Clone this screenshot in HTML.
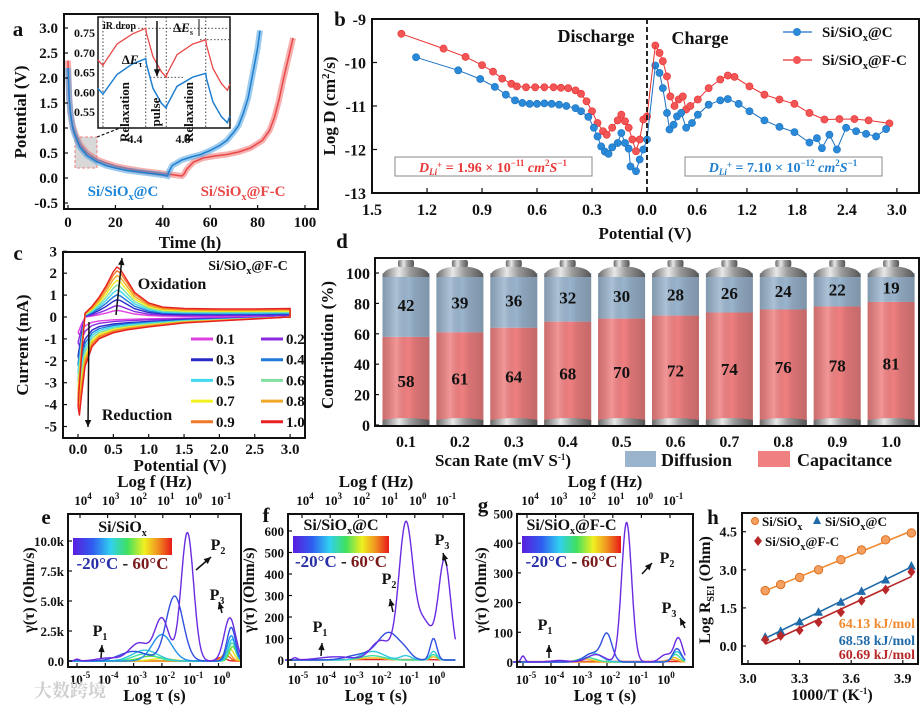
<!DOCTYPE html>
<html><head><meta charset="utf-8">
<style>
html,body{margin:0;padding:0;background:#fff;}
svg text{font-family:"Liberation Serif","Noto Serif CJK SC",serif;font-weight:bold;}
</style></head>
<body>
<svg id="fig" xmlns="http://www.w3.org/2000/svg" width="924" height="707" viewBox="0 0 924 707">
<defs>
<linearGradient id="cbar" x1="0" x2="1" y1="0" y2="0">
<stop offset="0" stop-color="#5a1ee0"/><stop offset="0.2" stop-color="#2f5ef0"/><stop offset="0.38" stop-color="#30d0f0"/><stop offset="0.55" stop-color="#40e060"/><stop offset="0.72" stop-color="#f0f020"/><stop offset="0.86" stop-color="#f09020"/><stop offset="1" stop-color="#e81818"/>
</linearGradient>
<linearGradient id="cap" x1="0" x2="1" y1="0" y2="0">
<stop offset="0" stop-color="#6a6a6a"/><stop offset="0.35" stop-color="#e8e8e8"/><stop offset="0.6" stop-color="#9a9a9a"/><stop offset="1" stop-color="#555"/>
</linearGradient>
<linearGradient id="shade" x1="0" x2="1" y1="0" y2="0">
<stop offset="0" stop-color="#000" stop-opacity="0.15"/><stop offset="0.3" stop-color="#fff" stop-opacity="0.18"/><stop offset="0.55" stop-color="#000" stop-opacity="0.0"/><stop offset="0.7" stop-color="#000" stop-opacity="0.1"/><stop offset="1" stop-color="#000" stop-opacity="0.18"/>
</linearGradient>
</defs>
<rect x="0" y="0" width="924" height="707" fill="#fff"/>
</svg>
<script>
// ---------------- data ----------------
// panel a
const aBlueT=[0,0.5,1,2,3,5,8,12,16,20,25,30,35,40,42,42.5,44,48,52,56,60,64,67,70,72,74,76,78,80,81];
const aBlueV=[2.2,1.6,1.3,1.0,0.85,0.62,0.45,0.33,0.25,0.2,0.15,0.12,0.09,0.06,0.04,0.12,0.25,0.36,0.42,0.47,0.55,0.65,0.75,0.92,1.05,1.3,1.6,2.1,2.6,2.95];
const aRedT=[0,0.5,1,2,3,5,8,12,16,20,25,30,35,40,45,48,49,50,53,57,62,67,72,77,82,85,87,89,91,93,95];
const aRedV=[2.35,1.6,1.3,1.05,0.9,0.68,0.5,0.37,0.3,0.24,0.19,0.15,0.12,0.09,0.06,0.04,0.08,0.17,0.32,0.4,0.44,0.47,0.52,0.6,0.75,0.95,1.2,1.55,2.0,2.4,2.8];
const insT=[4.09,4.133,4.14,4.25,4.38,4.49,4.495,4.55,4.62,4.66,4.665,4.75,4.88,4.99,4.995,5.05,5.12,5.17,5.19];
const insRed=[0.682,0.668,0.672,0.722,0.748,0.762,0.75,0.69,0.652,0.638,0.645,0.695,0.722,0.733,0.72,0.66,0.622,0.605,0.62];
const insBlue=[0.61,0.595,0.598,0.645,0.672,0.685,0.672,0.61,0.572,0.56,0.566,0.615,0.638,0.648,0.635,0.575,0.538,0.523,0.54];
// panel b
const bBlueDisV=[1.26,1.03,0.91,0.83,0.77,0.72,0.68,0.64,0.6,0.56,0.52,0.48,0.44,0.39,0.36,0.32,0.29,0.27,0.25,0.23,0.21,0.19,0.16,0.14,0.12,0.1,0.09,0.06,0.04,0.02,0.0];
const bBlueDisD=[-9.88,-10.18,-10.38,-10.56,-10.74,-10.87,-10.93,-10.95,-10.95,-10.94,-10.95,-10.97,-11.0,-11.05,-11.12,-11.25,-11.5,-11.7,-11.93,-12.05,-12.1,-11.95,-11.85,-11.62,-11.85,-11.98,-12.39,-12.5,-12.23,-12.0,-11.77];
const bRedDisV=[1.34,1.11,0.99,0.9,0.84,0.79,0.74,0.71,0.66,0.61,0.56,0.51,0.47,0.43,0.39,0.36,0.33,0.3,0.27,0.24,0.22,0.19,0.16,0.14,0.12,0.1,0.08,0.06,0.04,0.02,0.0];
const bRedDisD=[-9.34,-9.68,-9.87,-10.06,-10.21,-10.37,-10.49,-10.55,-10.57,-10.57,-10.57,-10.57,-10.58,-10.59,-10.64,-10.72,-10.89,-11.12,-11.39,-11.58,-11.66,-11.5,-11.33,-11.2,-11.35,-11.5,-11.77,-12.04,-11.77,-11.31,-11.24];
const bBlueChV=[0.1,0.15,0.19,0.24,0.27,0.32,0.36,0.41,0.47,0.54,0.61,0.74,0.88,0.97,1.1,1.23,1.41,1.59,1.77,1.95,2.04,2.1,2.19,2.28,2.39,2.51,2.63,2.75,2.87];
const bBlueChD=[-10.07,-10.24,-10.59,-11.16,-11.54,-11.43,-11.24,-11.16,-11.5,-11.39,-11.2,-10.97,-10.87,-10.84,-10.95,-11.12,-11.33,-11.48,-11.6,-11.84,-11.74,-11.97,-11.66,-12.0,-11.5,-11.58,-11.64,-11.7,-11.53];
const bRedChV=[0.1,0.15,0.19,0.24,0.28,0.33,0.38,0.43,0.47,0.52,0.61,0.74,0.88,0.97,1.05,1.23,1.41,1.59,1.77,1.95,2.13,2.31,2.49,2.66,2.91];
const bRedChD=[-9.61,-9.78,-9.97,-10.32,-10.78,-11.0,-10.85,-10.78,-11.08,-11.0,-10.85,-10.59,-10.39,-10.3,-10.33,-10.55,-10.74,-10.85,-10.95,-11.16,-11.31,-11.3,-11.3,-11.33,-11.4];
const bXTicksDis=["1.5","1.2","0.9","0.6","0.3","0.0"];
const bXTicksCh=["0.6","1.2","1.8","2.4","3.0"];
const bYTicks=[-9,-10,-11,-12,-13];
// panel c
const cRates=["0.1","0.2","0.3","0.4","0.5","0.6","0.7","0.8","0.9","1.0"];
const cColors=["#e040e0","#8a2be2","#2a2ac8","#1e78d8","#40d8ee","#80e0a0","#f0f020","#f0a828","#f07828","#e82020"];
const cOxPeak=[0.3,0.5,0.75,0.95,1.15,1.35,1.55,1.75,1.95,2.1];
const cRedPeak=[-0.8,-1.3,-2.0,-2.4,-2.8,-3.2,-3.6,-3.9,-4.2,-4.5];
const cAnV=[0.1,0.2,0.3,0.4,0.5,0.55,0.6,0.7,0.8,1.0,1.2,1.5,2.0,2.5,3.0];
const cAnF=[0,0.15,0.35,0.6,0.9,1.0,0.95,0.7,0.45,0.22,0.13,0.1,0.09,0.09,0.1];
const cCaV=[3.0,2.5,2.0,1.5,1.0,0.7,0.5,0.3,0.2,0.1,0.05,0.02];
const cCaF=[0.0,0.02,0.04,0.06,0.1,0.13,0.16,0.22,0.3,0.5,0.8,1.0];
// panel d
const dRates=["0.1","0.2","0.3","0.4","0.5","0.6","0.7","0.8","0.9","1.0"];
const dCap=[58,61,64,68,70,72,74,76,78,81];
const dDiff=[42,39,36,32,30,28,26,24,22,19];
const dYTicks=[0,20,40,60,80,100];
// panels e,f,g : DRT peaks [logTau, height, width]
const eColors=["#6a2be0","#3050e0","#2090e8","#30c8e0","#40e0a0","#60e040","#e8e020","#f0a020","#f06020","#e02020"];
const ePeaks=[
 [[-5,0.15,0.08],[-3.9,0.25,0.4],[-2.8,1.5,0.35],[-2.0,3.5,0.25],[-1.1,10.7,0.22],[0.4,3.6,0.2]],
 [[-5,0.1,0.08],[-3.0,0.8,0.5],[-1.55,5.4,0.3],[0.45,2.8,0.15]],
 [[-2.0,2.2,0.35],[0.45,2.1,0.14]],
 [[-2.6,0.9,0.45],[0.48,1.8,0.13]],
 [[-2.6,0.6,0.4],[0.48,1.5,0.13]],
 [[-2.4,0.4,0.4],[0.5,1.2,0.12]],
 [[-2.0,0.2,0.4],[0.4,1.0,0.15]],
 [[0.3,0.8,0.15]],
 [[0.25,0.5,0.15]],
 [[0.1,0.3,0.15]]];
const fColors=["#6a2be0","#3050e0","#30c8e0","#40e0a0","#f0c020","#e02020"];
const fPeaks=[
 [[-5,10,0.08],[-3.5,15,0.6],[-1.9,90,0.35],[-1.0,625,0.25],[-0.35,175,0.3],[0.4,460,0.22]],
 [[-2.6,25,0.5],[-1.6,125,0.4],[-1.0,20,0.2],[0.0,100,0.12]],
 [[-2.2,40,0.4],[-1.0,20,0.2],[0.0,40,0.12]],
 [[-2.2,20,0.4],[0.0,25,0.12]],
 [[-2.2,10,0.4],[0.0,15,0.12]],
 [[-2,2,2]]];
const gColors=["#6a2be0","#3050e0","#30c8e0","#40e0a0","#f0c020","#f08020","#e02020"];
const gPeaks=[
 [[-5,20,0.07],[-3.7,5,0.3],[-2.4,25,0.3],[-1.3,470,0.18],[0.1,25,0.2],[0.55,80,0.15]],
 [[-2.5,30,0.3],[-2.0,90,0.18],[0.5,45,0.15]],
 [[-2.5,30,0.3],[0.5,35,0.15]],
 [[-2.7,15,0.3],[0.45,25,0.15]],
 [[-2.8,10,0.3],[0.4,15,0.15]],
 [[0.3,8,0.2]],
 [[-2,2,3]]];
const tauTicks=["-5","-4","-3","-2","-1","0"];
const fTicks=["4","3","2","1","0","-1"];
const eYTicks=[0,2.5,5,7.5,10];
const eYLabels=["0.0","2.5k","5.0k","7.5k","10.0k"];
const fYTicks=[0,100,200,300,400,500,600];
const gYTicks=[0,100,200,300,400,500];
// panel h
const hX=[3.10,3.19,3.30,3.41,3.54,3.66,3.80,3.95];
const hOrange=[2.18,2.42,2.70,3.0,3.40,3.78,4.18,4.45];
const hBlue=[0.35,0.58,0.95,1.33,1.72,2.15,2.6,3.15];
const hRed=[0.25,0.4,0.62,0.93,1.33,1.78,2.22,2.92];
const hXTicks=[3.0,3.3,3.6,3.9];
const hYTicks=[0,1.5,3.0,4.5];

// ---------------- helpers ----------------
const NS='http://www.w3.org/2000/svg';
const svg=document.getElementById('fig');
function mk(tag,attrs,name,parent){
 const el=document.createElementNS(NS,tag);
 for(const k in attrs) el.setAttribute(k,attrs[k]);
 
 
 (parent||svg).appendChild(el);
 return el;
}
function T(x,y,s,size,name,o){
 o=o||{};
 const at={x:x,y:y,'font-size':size,'text-anchor':o.a||'middle',fill:o.fill||'#111'};
 if(o.rot) at.transform='rotate(-90 '+x+' '+y+')';
 const el=mk('text',at,name,o.p);
 el.innerHTML=s;
 return el;
}
function path(pts,name,st){
 const d=pts.map((p,i)=>(i?'L':'M')+p[0].toFixed(1)+' '+p[1].toFixed(1)).join(' ');
 return mk('path',Object.assign({d:d,fill:'none'},st),name);
}
function frame(x0,y0,x1,y1,name){
 return mk('rect',{x:x0,y:y0,width:x1-x0,height:y1-y0,fill:'none',stroke:'#111','stroke-width':2},name);
}
function line(x1,y1,x2,y2,name,st){return mk('line',Object.assign({x1:x1,y1:y1,x2:x2,y2:y2,stroke:'#111','stroke-width':1.2},st||{}),name);}
function arrow(x1,y1,x2,y2,name){
 line(x1,y1,x2,y2,name,{'stroke-width':1.5});
 const a=Math.atan2(y2-y1,x2-x1),L=7,w=3.2;
 const p=[[x2,y2],[x2-L*Math.cos(a)+w*Math.sin(a),y2-L*Math.sin(a)-w*Math.cos(a)],[x2-L*Math.cos(a)-w*Math.sin(a),y2-L*Math.sin(a)+w*Math.cos(a)]];
 mk('polygon',{points:p.map(q=>q.join(',')).join(' '),fill:'#111'},name+'-head');
}
function gsum(pk,x){let s=0;for(const q of pk){s+=q[1]*Math.exp(-0.5*Math.pow((x-q[0])/q[2],2));}return s;}

// ================= PANEL A =================
const xa=t=>68+t*2.37, ya=v=>178-v*50;
T(18,36,'a',21,'panel-a-label');
mk('rect',{x:75,y:137,width:22,height:31,fill:'#d8d8d8',stroke:'#f08080','stroke-dasharray':'3,2'},'zoom-region-box');
line(97,137,120,128,'zoom-connector',{'stroke-dasharray':'3,2'});
path(aRedT.map((t,i)=>[xa(t),ya(aRedV[i])]),'a-red-band',{stroke:'#f07070','stroke-width':6,'stroke-opacity':0.55});
path(aRedT.map((t,i)=>[xa(t),ya(aRedV[i])]),'a-red-curve',{stroke:'#e84848','stroke-width':1.5});
path(aBlueT.map((t,i)=>[xa(t),ya(aBlueV[i])]),'a-blue-band',{stroke:'#4aa0e0','stroke-width':6,'stroke-opacity':0.55});
path(aBlueT.map((t,i)=>[xa(t),ya(aBlueV[i])]),'a-blue-curve',{stroke:'#1f7fd0','stroke-width':1.5});
frame(64,14,318,209,'a-plot-frame');
[3.0,2.5,2.0,1.5,1.0,0.5,0.0,-0.5].forEach(v=>{T(58,ya(v)+5,v.toFixed(1),15,'a-y-tick-label',{a:'end'});line(64,ya(v),68,ya(v),'a-y-tick');});
[0,20,40,60,80,100].forEach(t=>{T(xa(t),227,String(t),15,'a-x-tick-label');line(xa(t),209,xa(t),205,'a-x-tick');});
T(26,112,'Potential (V)',17,'a-y-axis-title',{rot:1});
T(190,248,'Time (h)',17,'a-x-axis-title');
T(123,196,'Si/SiO<tspan font-size="10" dy="4">x</tspan><tspan dy="-4">@C</tspan>',15,'legend-si-sio-c',{fill:'#1f86d8'});
T(243,196,'Si/SiO<tspan font-size="10" dy="4">x</tspan><tspan dy="-4">@F-C</tspan>',15,'legend-si-sio-fc',{fill:'#e84848'});
// inset
mk('rect',{x:98,y:17,width:132,height:111,fill:'#fff',stroke:'#111','stroke-width':1.5},'inset-frame');
const xi=t=>135+(t-4.4)*120, yi=v=>33+(0.75-v)*395;
[4.133,4.49,4.66,4.99].forEach(t=>line(xi(t),17,xi(t),128,'inset-divider',{'stroke-dasharray':'1.5,2','stroke-width':0.8}));
line(xi(4.133),yi(0.762),229,yi(0.762),'inset-ref-line',{'stroke-dasharray':'1.5,2','stroke-width':0.8});
line(150,yi(0.638),185,yi(0.638),'inset-ref-line',{'stroke-dasharray':'1.5,2','stroke-width':0.8});
line(200,yi(0.733),229,yi(0.733),'inset-ref-line',{'stroke-dasharray':'1.5,2','stroke-width':0.8});
path(insT.map((t,i)=>[xi(t),yi(insRed[i])]),'inset-red-curve',{stroke:'#e84848','stroke-width':1.3});
path(insT.map((t,i)=>[xi(t),yi(insBlue[i])]),'inset-blue-curve',{stroke:'#1f7fd0','stroke-width':1.5});
[0.75,0.70,0.65,0.60,0.55].forEach(v=>{T(95,yi(v)+4,v.toFixed(2),12,'inset-y-tick-label',{a:'end'});});
T(xi(4.4),143,'4.4',12,'inset-x-tick-label');T(xi(4.8),143,'4.8',12,'inset-x-tick-label');
T(103,29,'iR drop',10,'ir-drop-label',{a:'start'});
arrow(157,21,157,yi(0.638)-1,'delta-e-tau-arrow');
T(132,64,'Δ<tspan font-style="italic">E</tspan><tspan font-size="8" dy="3">τ</tspan>',13,'delta-e-tau-label');
T(183,32,'Δ<tspan font-style="italic">E</tspan><tspan font-size="8" dy="3">s</tspan>',13,'delta-e-s-label');
line(199,19,199,36,'delta-e-s-marker',{'stroke-width':1});
T(129,112,'Relaxation',13,'relaxation-label',{rot:1});
T(160,112,'pulse',13,'pulse-label',{rot:1});
T(193,112,'Relaxation',13,'relaxation-label',{rot:1});

// ================= PANEL B =================
const xbD=v=>647-v*183.3, xbC=v=>647+v*83.3, yb=d=>19+(-9-d)*43.5;
T(340,26,'b',21,'panel-b-label');
function bSeries(vs,ds,xf,col,lc,name){
 path(vs.map((v,i)=>[xf(v),yb(ds[i])]),name+'-line',{stroke:lc,'stroke-width':1});
 vs.forEach((v,i)=>{mk('circle',{cx:xf(v),cy:yb(ds[i]),r:3.6,fill:col,stroke:lc,'stroke-width':0.6},name+'-point');});
}
bSeries(bRedDisV,bRedDisD,xbD,'#f25555','#e83030','b-red-discharge');
bSeries(bBlueDisV,bBlueDisD,xbD,'#2a8ad8','#1a70c0','b-blue-discharge');
bSeries(bRedChV,bRedChD,xbC,'#f25555','#e83030','b-red-charge');
bSeries(bBlueChV,bBlueChD,xbC,'#2a8ad8','#1a70c0','b-blue-charge');
path([[xbD(0),yb(-11.77)],[xbC(0.1),yb(-10.07)]],'b-blue-join',{stroke:'#1a70c0','stroke-width':1});
path([[xbD(0),yb(-11.24)],[xbC(0.1),yb(-9.61)]],'b-red-join',{stroke:'#e83030','stroke-width':1});
line(647,19,647,193,'b-divider',{'stroke-dasharray':'5,3','stroke-width':1.8});
frame(372,19,919,193,'b-plot-frame');
bYTicks.forEach(d=>{T(366,yb(d)+6,String(d),16,'b-y-tick-label',{a:'end'});line(372,yb(d),377,yb(d),'b-y-tick');});
bXTicksDis.forEach(s=>{const x=xbD(+s);T(x,215,s,16,'b-x-tick-label');line(x,193,x,188,'b-x-tick');});
bXTicksCh.forEach(s=>{const x=xbC(+s);T(x,215,s,16,'b-x-tick-label');line(x,193,x,188,'b-x-tick');});
T(335,106,'Log D (cm<tspan font-size="11" dy="-6">2</tspan><tspan dy="6">/s)</tspan>',17,'b-y-axis-title',{rot:1});
T(645,239,'Potential (V)',17,'b-x-axis-title');
T(596,42,'Discharge',18,'discharge-label');
T(700,44,'Charge',18,'charge-label');
line(783,32,812,32,'b-legend-blue-line',{stroke:'#1a70c0'});
mk('circle',{cx:797,cy:32,r:4,fill:'#2a8ad8'},'b-legend-blue-marker');
T(822,37,'Si/SiO<tspan font-size="10" dy="4">x</tspan><tspan dy="-4">@C</tspan>',15,'b-legend-blue-text',{a:'start'});
line(783,60,812,60,'b-legend-red-line',{stroke:'#e83030'});
mk('circle',{cx:797,cy:60,r:4,fill:'#f25555'},'b-legend-red-marker');
T(822,65,'Si/SiO<tspan font-size="10" dy="4">x</tspan><tspan dy="-4">@F-C</tspan>',15,'b-legend-red-text',{a:'start'});
mk('rect',{x:395,y:157,width:197,height:19,fill:'#fff',stroke:'#888','stroke-width':1},'b-red-annotation-box');
T(493,172,'<tspan font-style="italic">D</tspan><tspan font-size="9" dy="3" font-style="italic">Li</tspan><tspan font-size="9" dy="-7">+</tspan><tspan dy="4"> = 1.96 × 10</tspan><tspan font-size="9" dy="-6">−11</tspan><tspan dy="6" font-style="italic"> cm</tspan><tspan font-size="9" dy="-6">2</tspan><tspan dy="6" font-style="italic">S</tspan><tspan font-size="9" dy="-6">−1</tspan>',14,'b-red-diffusion-coefficient',{fill:'#e83838'});
mk('rect',{x:685,y:157,width:197,height:19,fill:'#fff',stroke:'#888','stroke-width':1},'b-blue-annotation-box');
T(783,172,'<tspan font-style="italic">D</tspan><tspan font-size="9" dy="3" font-style="italic">Li</tspan><tspan font-size="9" dy="-7">+</tspan><tspan dy="4"> = 7.10 × 10</tspan><tspan font-size="9" dy="-6">−12</tspan><tspan dy="6" font-style="italic"> cm</tspan><tspan font-size="9" dy="-6">2</tspan><tspan dy="6" font-style="italic">S</tspan><tspan font-size="9" dy="-6">−1</tspan>',14,'b-blue-diffusion-coefficient',{fill:'#1f7fd0'});

// ================= PANEL C =================
const xc=v=>78+v*70.7, yc=i=>317-i*21.9;
T(18,260,'c',21,'panel-c-label');
for(let k=0;k<cRates.length;k++){
 const pts=[[xc(0.0),yc(cRedPeak[k]*0.9)],[xc(0.05),yc(cRedPeak[k]*0.4)]];
 cAnV.forEach((v,i)=>pts.push([xc(v),yc(cOxPeak[k]*cAnF[i]+0.02*k)]));
 cCaV.forEach((v,i)=>pts.push([xc(v),yc(cRedPeak[k]*cCaF[i])]));
 pts.push([xc(0.0),yc(cRedPeak[k]*0.9)]);
 path(pts,'cv-curve-'+cRates[k],{stroke:cColors[k],'stroke-width':1.4});
}
frame(63,252,305,438,'c-plot-frame');
[3,2,1,0,-1,-2,-3,-4,-5].forEach(i=>{T(57,yc(i)+5,String(i),15,'c-y-tick-label',{a:'end'});line(63,yc(i),67,yc(i),'c-y-tick');});
[0,0.5,1,1.5,2,2.5,3].forEach(v=>{T(xc(v),454,v.toFixed(1),15,'c-x-tick-label');line(xc(v),438,xc(v),434,'c-x-tick');});
T(28,345,'Current (mA)',17,'c-y-axis-title',{rot:1});
T(180,471,'Potential (V)',17,'c-x-axis-title');
T(248,270,'Si/SiO<tspan font-size="10" dy="4">x</tspan><tspan dy="-4">@F-C</tspan>',14,'c-sample-label');
T(172,289,'Oxidation',16,'oxidation-label');
T(137,420,'Reduction',16,'reduction-label');
arrow(116,315,122,258,'oxidation-arrow');
arrow(89,322,88,427,'reduction-arrow');
cRates.forEach((r,k)=>{
 const col=k%2, row=Math.floor(k/2);
 const x0=col?261:191, y0=339+row*20.7;
 line(x0,y0,x0+22,y0,'c-legend-swatch-'+r,{stroke:cColors[k],'stroke-width':3});
 T(x0+25,y0+5,r,15,'c-legend-label-'+r,{a:'start'});
});

// ================= PANEL D =================
const xd=k=>406+k*53.9, yd=p=>425-p*1.52;
T(342,248,'d',21,'panel-d-label');
dRates.forEach((r,k)=>{
 const cx=xd(k), w=47, x0=cx-w/2;
 mk('rect',{x:x0,y:yd(dCap[k]),width:w,height:yd(0)-yd(dCap[k]),fill:'#ef7f80'},'capacitance-bar-'+r);
 mk('rect',{x:x0,y:yd(100),width:w,height:yd(dCap[k])-yd(100),fill:'#9ab4cd'},'diffusion-bar-'+r);
 mk('rect',{x:x0,y:yd(100),width:w,height:yd(0)-yd(100),fill:'url(#shade)'},'battery-shading');
 mk('path',{d:`M${x0} ${yd(100)+4} Q${x0} ${yd(100)-6} ${cx} ${yd(100)-7} Q${x0+w} ${yd(100)-6} ${x0+w} ${yd(100)+4} Z`,fill:'url(#cap)'},'battery-top-cap');
 mk('rect',{x:cx-8,y:yd(100)-13,width:16,height:7,rx:2,fill:'url(#cap)'},'battery-terminal');
 mk('path',{d:`M${x0} ${yd(0)-5} Q${cx} ${yd(0)-9} ${x0+w} ${yd(0)-5} L${x0+w} ${yd(0)} Q${cx} ${yd(0)+4} ${x0} ${yd(0)} Z`,fill:'url(#cap)'},'battery-bottom-cap');
 T(cx,yd(dCap[k]+dDiff[k]/2)+6,String(dDiff[k]),17,'diffusion-value-'+r);
 T(cx,yd(dCap[k]/2)+6,String(dCap[k]),17,'capacitance-value-'+r);
 T(cx,447,r,16,'d-x-tick-label');
});
frame(375,258,919,426,'d-plot-frame');
dYTicks.forEach(p=>{T(370,yd(p)+6,String(p),16,'d-y-tick-label',{a:'end'});line(375,yd(p),379,yd(p),'d-y-tick');});
T(333,345,'Contribution (%)',17,'d-y-axis-title',{rot:1});
T(503,466,'Scan Rate (mV S<tspan font-size="9" dy="-6">-1</tspan><tspan dy="6">)</tspan>',17,'d-x-axis-title');
mk('rect',{x:625,y:451,width:31,height:16,fill:'#9ab4cd'},'legend-diffusion-swatch');
T(661,466,'Diffusion',18,'legend-diffusion-text',{a:'start'});
mk('rect',{x:758,y:451,width:32,height:16,fill:'#ef7f80'},'legend-capacitance-swatch');
T(797,466,'Capacitance',18,'legend-capacitance-text',{a:'start'});

// ================= PANELS E, F, G =================
function drtPanel(o){
 const X=o.xs, Y=o.ys;
 T(o.lx,o.ly,o.letter,21,'panel-'+o.letter+'-label');
 for(let k=o.peaks.length-1;k>=0;k--){
  const pts=[];
  for(let lt=-5.35;lt<=0.8;lt+=0.02){pts.push([X(lt),Y(gsum(o.peaks[k],lt))]);}
  path(pts,o.letter+'-drt-curve-'+k,{stroke:o.colors[k],'stroke-width':1.4});
 }
 frame(o.x0,o.y0,o.x1,o.y1,o.letter+'-plot-frame');
 o.yt.forEach((v,i)=>{T(o.x0-4,Y(v)+5,o.yl[i],13,o.letter+'-y-tick-label',{a:'end'});line(o.x0,Y(v),o.x0+4,Y(v),o.letter+'-y-tick');});
 tauTicks.forEach(e=>{const x=X(+e);T(x+3,o.y1+17,'10<tspan font-size="9" dy="-6">'+e+'</tspan>',13,o.letter+'-x-tick-label');line(x,o.y1,x,o.y1-4,o.letter+'-x-tick');});
 fTicks.forEach((e,i)=>{const x=o.fx(i);T(x+3,o.y0-9,'10<tspan font-size="9" dy="-6">'+e+'</tspan>',13,o.letter+'-top-tick-label');line(x,o.y0,x,o.y0+4,o.letter+'-top-tick');});
 T((o.x0+o.x1)/2,o.y1+34,'Log τ (s)',17,o.letter+'-x-axis-title');
 T((o.x0+o.x1)/2,o.y0-27,'Log f (Hz)',17,o.letter+'-top-axis-title');
 T(o.ytx,590,'γ(τ) (Ohm/s)',16,o.letter+'-y-axis-title',{rot:1});
 mk('rect',{x:o.cb[0],y:o.cb[1],width:o.cb[2],height:17,fill:'url(#cbar)'},o.letter+'-temperature-colorbar');
 T(o.cb[0]+o.cb[2]/2,o.cb[1]-6,o.title,16,o.letter+'-sample-title');
 T(o.cb[0]+o.cb[2]/2,o.cb[1]+31,'<tspan fill="#2830a8">-20°C</tspan> - <tspan fill="#7a1a1a">60°C</tspan>',17,o.letter+'-temperature-range');
 o.P.forEach((p,i)=>{T(p[0],p[1],'P<tspan font-size="10" dy="4">'+(i+1)+'</tspan>',16,o.letter+'-peak-label-p'+(i+1));arrow(p[2],p[3],p[4],p[5],o.letter+'-peak-arrow-p'+(i+1));});
}
const sub='<tspan font-size="10" dy="4">x</tspan><tspan dy="-4">';
drtPanel({letter:'e',lx:46,ly:524,xs:lt=>77+(lt+5)*28.3,ys:v=>661-v*12,peaks:ePeaks,colors:eColors,
 x0:68,y0:514,x1:241,y1:667,yt:eYTicks,yl:eYLabels,fx:i=>80+i*27.6,ytx:34,
 cb:[73,538,99],title:'Si/SiO'+sub+'</tspan>',
 P:[[100,636,101,658,102,645],[218,550,196,570,211,557],[217,600,222,613,219,602]]});
drtPanel({letter:'f',lx:266,ly:522,xs:lt=>295+(lt+5)*27.7,ys:v=>660-v*0.215,peaks:fPeaks,colors:fColors,
 x0:288,y0:514,x1:464,y1:667,yt:fYTicks,yl:fYTicks.map(String),fx:i=>302+i*28.2,ytx:254,
 cb:[293,536,96],title:'Si/SiO'+sub+'@C</tspan>',
 P:[[320,632,321,656,322,643],[389,584,393,612,390,599],[442,545,447,566,443,553]]});
drtPanel({letter:'g',lx:483,ly:512,xs:lt=>523+(lt+5)*28,ys:v=>662-v*0.297,peaks:gPeaks,colors:gColors,
 x0:517,y0:514,x1:693,y1:667,yt:gYTicks,yl:gYTicks.map(String),fx:i=>527+i*28.6,ytx:486,
 cb:[522,536,99],title:'Si/SiO'+sub+'@F-C</tspan>',
 P:[[545,630,549,658,549,645],[667,563,642,574,652,563],[669,613,685,628,680,618]]});

// ================= PANEL H =================
const xh=x=>748+(x-3)*172, yh=v=>646-v*25.4;
T(713,524,'h',21,'panel-h-label');
function fitLine(ys,col,name){
 const n=hX.length;let sx=0,sy=0,sxx=0,sxy=0;
 hX.forEach((x,i)=>{sx+=x;sy+=ys[i];sxx+=x*x;sxy+=x*ys[i];});
 const b=(n*sxy-sx*sy)/(n*sxx-sx*sx), a=(sy-b*sx)/n;
 line(xh(hX[0]),yh(a+b*hX[0]),xh(hX[n-1]),yh(a+b*hX[n-1]),name,{stroke:col,'stroke-width':1.6});
}
fitLine(hOrange,'#f08a30','h-orange-fit');
fitLine(hBlue,'#1f6aa8','h-blue-fit');
fitLine(hRed,'#b82828','h-red-fit');
hX.forEach((x,i)=>{
 mk('circle',{cx:xh(x),cy:yh(hOrange[i]),r:4.2,fill:'#f3a060',stroke:'#e07020','stroke-width':1},'h-orange-point');
 mk('polygon',{points:`${xh(x)},${yh(hBlue[i])-5} ${xh(x)-4.5},${yh(hBlue[i])+3.5} ${xh(x)+4.5},${yh(hBlue[i])+3.5}`,fill:'#1f6aa8'},'h-blue-point');
 mk('polygon',{points:`${xh(x)},${yh(hRed[i])-5} ${xh(x)+4},${yh(hRed[i])} ${xh(x)},${yh(hRed[i])+5} ${xh(x)-4},${yh(hRed[i])}`,fill:'#b82828'},'h-red-point');
});
frame(742,513,918,664,'h-plot-frame');
hYTicks.forEach(v=>{T(737,yh(v)+5,v.toFixed(1),14,'h-y-tick-label',{a:'end'});line(742,yh(v),746,yh(v),'h-y-tick');});
hXTicks.forEach(v=>{T(xh(v),683,v.toFixed(1),14,'h-x-tick-label');line(xh(v),664,xh(v),660,'h-x-tick');});
T(710,590,'Log R<tspan font-size="10" dy="4">SEI</tspan><tspan dy="-4"> (Ohm)</tspan>',16,'h-y-axis-title',{rot:1});
T(832,700,'1000/T (K<tspan font-size="9" dy="-6">-1</tspan><tspan dy="6">)</tspan>',16,'h-x-axis-title');
mk('circle',{cx:755,cy:521,r:3.5,fill:'#f3a060',stroke:'#e07020'},'h-legend-orange-marker');
T(762,526,'Si/SiO'+sub+'</tspan>',13,'h-legend-orange-text',{a:'start'});
mk('polygon',{points:'817,516 813,524 821,524',fill:'#1f6aa8'},'h-legend-blue-marker');
T(825,526,'Si/SiO'+sub+'@C</tspan>',13,'h-legend-blue-text',{a:'start'});
mk('polygon',{points:'758,536 762,541 758,546 754,541',fill:'#b82828'},'h-legend-red-marker');
T(765,546,'Si/SiO'+sub+'@F-C</tspan>',13,'h-legend-red-text',{a:'start'});
T(915,628,'64.13 kJ/mol',14,'h-energy-orange',{a:'end',fill:'#f08a30'});
T(915,645,'68.58 kJ/mol',14,'h-energy-blue',{a:'end',fill:'#1f6aa8'});
T(915,659,'60.69 kJ/mol',14,'h-energy-red',{a:'end',fill:'#b82828'});
T(70,697,'大数跨境',18,'watermark',{fill:'#cfcfcf'});
</script>
</body></html>
